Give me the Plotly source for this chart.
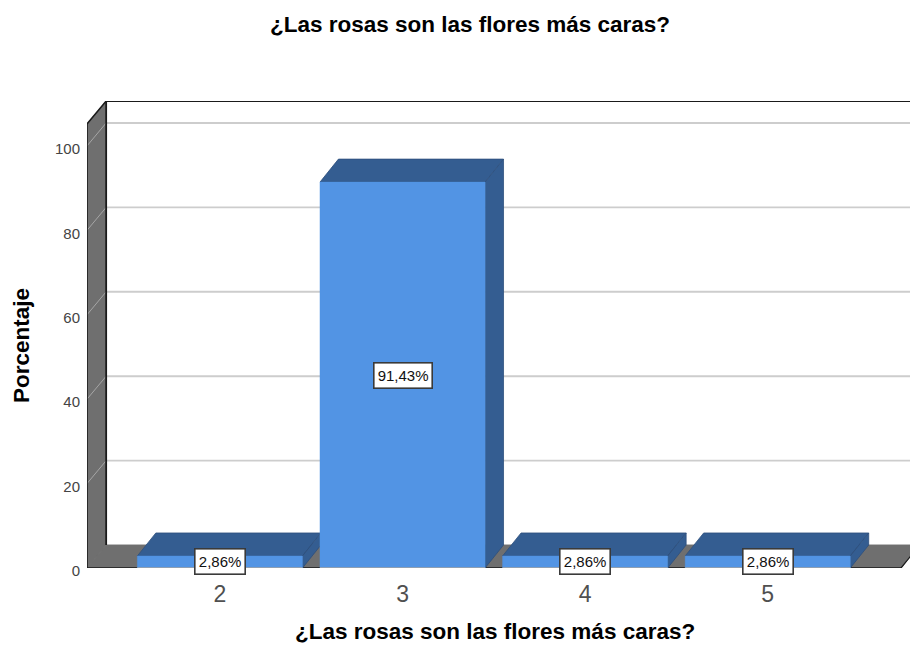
import plotly.graph_objects as go

# Survey responses: share of answers per rating
categories = [2, 3, 4, 5]
percentages = [2.86, 91.43, 2.86, 2.86]
value_labels = ["2,86%", "91,43%", "2,86%", "2,86%"]
y_ticks = [0, 20, 40, 60, 80, 100]

title_text = "¿Las rosas son las flores más caras?"
y_title = "Porcentaje"

WIDTH, HEIGHT = 910, 647
ML, MT, MB = 87, 100.5, 78.5

X_MIN, X_MAX = 1.272, 5.779
Y_MIN, Y_MAX = 0, 110.64

# Pseudo-3D extrusion expressed in axis units
DX, DY = 0.101, 5.44
WALL_DX = 0.105
BAR_W = 0.904
FLOOR_R = 5.73
WALL_TOP = Y_MAX - DY

WALL = "#6f6f6f"
GRID = "#cdcdcd"
GRID_SIDE = "#a6a6a6"
FRONT = "#5294e4"
SHADE = "#345d91"
EDGE = "#2d4f7c"
DARK = "#1a1a1a"
HEADING_FONT = dict(family="Liberation Sans", size=22.5, color="#000000", weight=700)

fig = go.Figure()


def poly(xs, ys, fill, line=None, width=1):
    fig.add_trace(go.Scatter(
        x=xs + xs[:1], y=ys + ys[:1], mode="lines", fill="toself", fillcolor=fill,
        line=dict(color=line or fill, width=width), hoverinfo="skip", cliponaxis=False,
    ))


def seg(xs, ys, color, width=1):
    fig.add_trace(go.Scatter(
        x=xs, y=ys, mode="lines", line=dict(color=color, width=width),
        hoverinfo="skip", cliponaxis=False,
    ))


# Side wall and floor
poly([X_MIN, X_MIN + WALL_DX, X_MIN + WALL_DX, X_MIN], [0, DY, WALL_TOP + DY, WALL_TOP], WALL)
poly([X_MIN, FLOOR_R, FLOOR_R + DX, X_MIN + WALL_DX], [0, 0, DY, DY], WALL)

# Gridlines run along the back wall, then slant down the side wall
for t in y_ticks[1:]:
    seg([X_MIN + WALL_DX, X_MAX], [t + DY, t + DY], GRID, 1.9)
    seg([X_MIN, X_MIN + WALL_DX], [t, t + DY], GRID_SIDE, 1)

# Frame of the chart box
seg([X_MIN + WALL_DX, X_MAX], [WALL_TOP + DY, WALL_TOP + DY], DARK, 1.8)
seg([X_MIN + WALL_DX, X_MIN + WALL_DX], [DY, WALL_TOP + DY], DARK, 1.8)
seg([X_MIN, X_MIN + WALL_DX], [WALL_TOP, WALL_TOP + DY], DARK, 1.5)
seg([X_MIN, X_MIN], [0, WALL_TOP], DARK, 1.6)
seg([X_MIN, FLOOR_R], [0, 0], DARK, 1.5)
seg([FLOOR_R, FLOOR_R + DX], [0, DY], DARK, 1.2)

# Extruded bars
for c, v in zip(categories, percentages):
    x0, x1 = c - BAR_W / 2, c + BAR_W / 2
    poly([x0, x1, x1 + DX, x0 + DX], [v, v, v + DY, v + DY], SHADE, EDGE, 0.8)
    poly([x1, x1 + DX, x1 + DX, x1], [0, DY, v + DY, v], SHADE, EDGE, 0.8)
    poly([x0, x1, x1, x0], [0, 0, v, v], FRONT, FRONT, 0.5)
    seg([x0, x1], [0, 0], "#a3a3a3", 1.4)

# Value labels sit at the middle of each front face
annotations = [
    dict(
        x=c, y=v / 2, xref="x", yref="y", text=t, showarrow=False,
        font=dict(family="Liberation Sans", size=15, color="#111111"),
        bgcolor="white", bordercolor="#3a3a3a", borderwidth=1.6,
        width=47 if v < 50 else 55, height=22, align="center", valign="middle",
    )
    for c, v, t in zip(categories, percentages, value_labels)
]

# Axis headings, placed by page pixel so they can sit off the plot centre
plot_w, plot_h = WIDTH - ML, HEIGHT - MT - MB
annotations += [
    dict(
        x=(494.5 - ML) / plot_w, y=(HEIGHT - 632.5 - MB) / plot_h,
        xref="paper", yref="paper", xanchor="center", yanchor="middle",
        text=title_text, showarrow=False, font=HEADING_FONT,
    ),
    dict(
        x=(22 - ML) / plot_w, y=(HEIGHT - 346 - MB) / plot_h,
        xref="paper", yref="paper", xanchor="center", yanchor="middle",
        text=y_title, textangle=-90, showarrow=False, font=HEADING_FONT,
    ),
]

fig.update_layout(
    width=WIDTH, height=HEIGHT,
    margin=dict(l=ML, r=0, t=MT, b=MB, pad=0),
    plot_bgcolor="white", paper_bgcolor="white",
    showlegend=False, hovermode=False,
    font=dict(family="Liberation Sans"),
    title=dict(
        text=title_text, x=470 / WIDTH, xanchor="center",
        y=1 - 24 / HEIGHT, yanchor="middle", font=HEADING_FONT,
    ),
    xaxis=dict(
        range=[X_MIN, X_MAX], tickmode="array", tickvals=categories,
        ticktext=[str(c) for c in categories], showgrid=False, zeroline=False,
        showline=False, ticks="", ticklabelstandoff=10,
        tickfont=dict(size=23, color="#505050"),
    ),
    yaxis=dict(
        range=[Y_MIN, Y_MAX], tickmode="array", tickvals=y_ticks,
        showgrid=False, zeroline=False, showline=False, ticks="", ticklabelstandoff=6,
        ticklabelshift=3, tickfont=dict(size=15, color="#444444"),
    ),
    annotations=annotations,
)

fig.write_html("out.html", config={"displayModeBar": False})
